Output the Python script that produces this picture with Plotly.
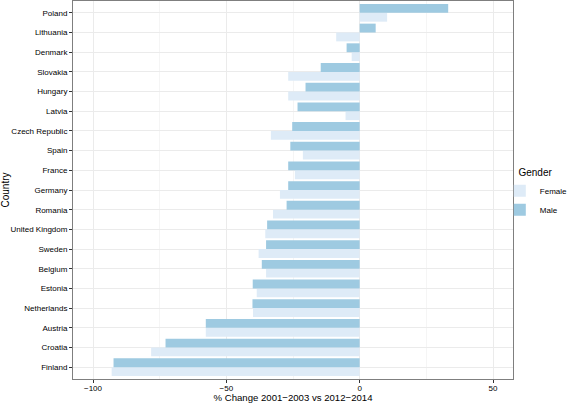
import plotly.graph_objects as go

countries = ["Poland", "Lithuania", "Denmark", "Slovakia", "Hungary", "Latvia",
             "Czech Republic", "Spain", "France", "Germany", "Romania",
             "United Kingdom", "Sweden", "Belgium", "Estonia", "Netherlands",
             "Austria", "Croatia", "Finland"]
male = [33.2, 6.0, -4.9, -14.6, -20.3, -23.3, -25.3, -26.0, -26.8, -26.8, -27.4,
        -34.7, -35.1, -36.7, -40.1, -40.2, -57.7, -72.8, -92.3]
female = [10.3, -8.8, -3.0, -26.8, -26.8, -5.3, -33.3, -21.3, -24.3, -29.9, -32.5,
          -35.4, -37.9, -35.1, -38.6, -40.0, -57.7, -78.2, -93.0]
x_ticks = [-100, -50, 0, 50]

female_color = "#DEEBF7"
male_color = "#9ECAE1"

fig = go.Figure()
fig.add_trace(go.Bar(y=countries, x=female, name="Female", orientation="h",
                     marker=dict(color=female_color, line=dict(width=0))))
fig.add_trace(go.Bar(y=countries, x=male, name="Male", orientation="h",
                     marker=dict(color=male_color, line=dict(width=0))))

font = "Liberation Sans, Arial, sans-serif"
fig.update_layout(
    width=567, height=403,
    margin=dict(l=73, r=54, t=1, b=24, autoexpand=False),
    paper_bgcolor="white", plot_bgcolor="white",
    barmode="group", bargap=0.1, bargroupgap=0,
    font=dict(family=font, size=8, color="black"),
    legend=dict(title=dict(text="\u00a0" * 6 + "Gender", font=dict(size=10)),
                traceorder="normal", x=0.97, xanchor="left", y=0.49, yanchor="middle",
                font=dict(size=8), bgcolor="rgba(0,0,0,0)", tracegroupgap=0),
    xaxis=dict(range=[-107.5, 57.5], tickvals=x_ticks, ticks="outside", ticklen=3,
               tickcolor="#333333", showgrid=True, gridcolor="#EBEBEB", gridwidth=1,
               zeroline=False, showline=True, linecolor="#7F7F7F", linewidth=1, mirror=True,
               minor=dict(tickvals=[-75, -25, 25], showgrid=True, gridcolor="#F5F5F5", ticks=""),
               title=dict(text="% Change 2001\u22122003 vs 2012\u22122014", font=dict(size=9.6), standoff=0),
               tickfont=dict(size=8), ticklabelstandoff=-2, automargin=False),
    yaxis=dict(categoryorder="array", categoryarray=countries[::-1], ticks="outside",
               ticklen=3, tickcolor="#333333", showgrid=True, gridcolor="#EBEBEB",
               showline=True, linecolor="#7F7F7F", linewidth=1, mirror=True,
               range=[-0.6, len(countries) - 0.4],
               title=dict(text="Country", font=dict(size=10), standoff=0),
               tickfont=dict(size=8), automargin=False),
)

fig.write_html("out.html", config={"displayModeBar": False},
               post_script="document.body.style.margin='0';")
